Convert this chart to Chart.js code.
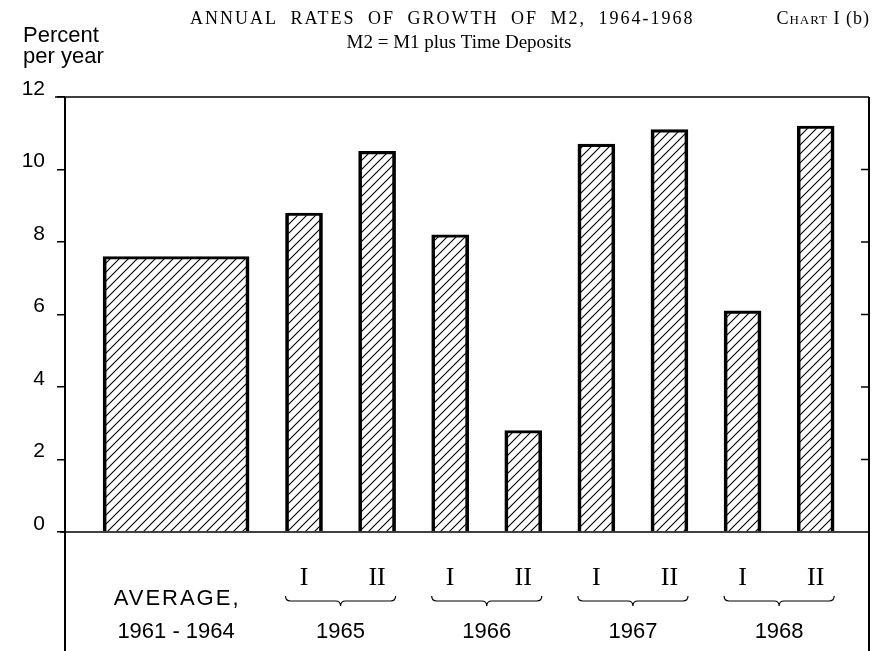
<!DOCTYPE html>
<html><head><meta charset="utf-8">
<script src="https://cdn.jsdelivr.net/npm/chart.js@4"></script>
<style>html,body{margin:0;padding:0;background:#fff}canvas{display:block}</style>
</head><body>
<canvas id="c" width="881" height="651"></canvas>
<script>
// ---- data ----
const titleText = 'ANNUAL RATES OF GROWTH OF M2, 1964-1968';
const subtitleText = 'M2 = M1 plus Time Deposits';
const chartLabelParts = ['C', 'HART', ' I (b)'];
const yAxisTitle = ['Percent', 'per year'];
const averageLabel = ['AVERAGE,', '1961 - 1964'];
const averageValue = [7.6];
const years = ['1965', '1966', '1967', '1968'];
const halves = ['I', 'II'];
const halfYearValues = [8.8, 10.5, 8.2, 2.8, 10.7, 11.1, 6.1, 11.2];
const yTicks = [0, 2, 4, 6, 8, 10, 12];

// ---- layout (not data) ----
const X_MAX = 11, AVG_X = 1.52, FIRST_HALF_X = 3.27, HALF_STEP = 1.0;
const HALF_BAR_PX = 37, AVG_BAR_PX = 146;
const halfPos = i => FIRST_HALF_X + i * HALF_STEP;
const halfLabels = years.flatMap(() => halves);

const canvas = document.getElementById('c');
const mainCtx = canvas.getContext('2d');
function hatch() {
  const s = 9;
  const t = document.createElement('canvas');
  t.width = s; t.height = s;
  const g = t.getContext('2d');
  g.strokeStyle = '#000'; g.lineWidth = 1.1;
  g.beginPath();
  g.moveTo(-1, s + 1); g.lineTo(s + 1, -1);
  g.moveTo(-1, 1); g.lineTo(1, -1);
  g.moveTo(s - 1, s + 1); g.lineTo(s + 1, s - 1);
  g.stroke();
  return mainCtx.createPattern(t, 'repeat');
}
const pattern = hatch();

const barStyle = {
  backgroundColor: pattern,
  borderColor: '#000',
  borderWidth: { left: 3, right: 3, top: 2.5, bottom: 0 },
  borderSkipped: 'start',
  grouped: false
};

const decor = {
  id: 'decor',
  afterDraw(chart) {
    const { ctx, chartArea: a, scales: { x, y } } = chart;
    const H = chart.height;
    ctx.save();
    ctx.strokeStyle = '#000'; ctx.fillStyle = '#000';
    const line = (x1, y1, x2, y2) => { ctx.beginPath(); ctx.moveTo(x1, y1); ctx.lineTo(x2, y2); ctx.stroke(); };
    ctx.lineWidth = 1.5;
    line(55, a.top, a.right, a.top);
    line(60, a.bottom, a.right, a.bottom);
    ctx.lineWidth = 2;
    line(a.left, a.top, a.left, H);
    line(a.right, a.top, a.right, H);
    ctx.lineWidth = 1.5;
    yTicks.slice(1, -1).forEach(v => { const p = y.getPixelForValue(v); line(a.right - 8, p, a.right, p); });

    // braces + years
    ctx.lineWidth = 1.2;
    const by = 601;
    years.forEach((yr, k) => {
      const x1 = x.getPixelForValue(halfPos(2 * k)) - HALF_BAR_PX / 2;
      const x2 = x.getPixelForValue(halfPos(2 * k + 1)) + HALF_BAR_PX / 2;
      const xm = (x1 + x2) / 2;
      ctx.beginPath();
      ctx.moveTo(x1, by - 5);
      ctx.quadraticCurveTo(x1, by, x1 + 5, by);
      ctx.lineTo(xm - 5, by);
      ctx.quadraticCurveTo(xm, by, xm, by + 5);
      ctx.quadraticCurveTo(xm, by, xm + 5, by);
      ctx.lineTo(x2 - 5, by);
      ctx.quadraticCurveTo(x2, by, x2, by - 5);
      ctx.stroke();
      ctx.font = '22px "Liberation Sans"';
      ctx.textAlign = 'center'; ctx.textBaseline = 'alphabetic';
      ctx.fillText(yr, xm, 638);
    });

    // average label
    const ax = x.getPixelForValue(AVG_X);
    ctx.font = '22px "Liberation Sans"';
    ctx.textAlign = 'center';
    ctx.letterSpacing = '2px';
    ctx.fillText(averageLabel[0], ax + 1, 605);
    ctx.letterSpacing = '0px';
    ctx.fillText(averageLabel[1], ax, 638);

    // y axis title
    ctx.textAlign = 'left';
    ctx.font = '22px "Liberation Sans"';
    ctx.fillText(yAxisTitle[0], 23, 42);
    ctx.fillText(yAxisTitle[1], 23, 63);

    // title
    ctx.font = '18px "Liberation Serif"';
    ctx.letterSpacing = '2px';
    ctx.wordSpacing = '6px';
    ctx.fillText(titleText, 190, 24);
    ctx.letterSpacing = '0px';
    ctx.wordSpacing = '0px';
    ctx.textAlign = 'center';
    ctx.font = '19px "Liberation Serif"';
    ctx.fillText(subtitleText, 459, 48);

    // chart label (small caps), right aligned
    ctx.textAlign = 'left';
    const fonts = ['18px "Liberation Serif"', '13px "Liberation Serif"', '18px "Liberation Serif"'];
    ctx.letterSpacing = '1px';
    let w = 0;
    chartLabelParts.forEach((p, i) => { ctx.font = fonts[i]; w += ctx.measureText(p).width; });
    let cx = a.right + 1 - w;
    chartLabelParts.forEach((p, i) => { ctx.font = fonts[i]; ctx.fillText(p, cx, 24); cx += ctx.measureText(p).width; });
    ctx.restore();
  }
};

new Chart(canvas, {
  type: 'bar',
  data: {
    datasets: [
      Object.assign({ label: averageLabel.join(' '), data: averageValue.map(v => ({ x: AVG_X, y: v })), barThickness: AVG_BAR_PX }, barStyle),
      Object.assign({ label: 'Half-year rates', data: halfYearValues.map((v, i) => ({ x: halfPos(i), y: v })), barThickness: HALF_BAR_PX }, barStyle)
    ]
  },
  options: {
    responsive: false,
    animation: false,
    events: [],
    layout: { padding: { left: 0, right: 12, top: 97, bottom: 0 } },
    plugins: { legend: { display: false }, tooltip: { enabled: false }, title: { display: false } },
    scales: {
      x: {
        type: 'linear', min: 0, max: X_MAX, offset: false,
        grid: { display: false, drawTicks: false },
        border: { display: false },
        afterBuildTicks: s => { s.ticks = halfYearValues.map((_, i) => ({ value: halfPos(i) })); },
        afterFit: s => { s.height = 119; },
        ticks: {
          autoSkip: false, maxRotation: 0, minRotation: 0,
          font: { family: 'Liberation Serif', size: 26 }, color: '#000', padding: 31,
          callback: (v, i) => halfLabels[i]
        }
      },
      y: {
        min: 0, max: 12,
        afterBuildTicks: s => { s.ticks = yTicks.map(v => ({ value: v })); },
        afterFit: s => { s.width = 65; },
        grid: { drawOnChartArea: false, drawTicks: true, tickLength: 8, color: '#000', lineWidth: 1.5 },
        border: { display: false },
        ticks: { font: { family: 'Liberation Sans', size: 21 }, color: '#000', padding: 12, labelOffset: -8 }
      }
    }
  },
  plugins: [decor]
});
</script>
</body></html>
